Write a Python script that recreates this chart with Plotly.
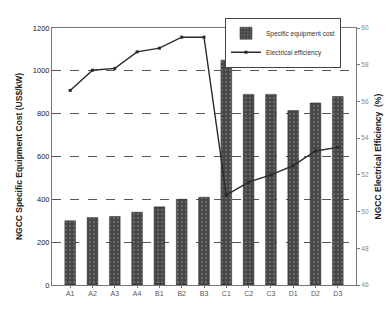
import plotly.graph_objects as go

categories = ["A1", "A2", "A3", "A4", "B1", "B2", "B3", "C1", "C2", "C3", "D1", "D2", "D3"]
cost = [300, 315, 320, 340, 365, 400, 410, 1050, 890, 890, 815, 850, 880]
efficiency = [56.6, 57.7, 57.8, 58.7, 58.9, 59.5, 59.5, 50.9, 51.6, 52.0, 52.5, 53.3, 53.5]
left_ticks = [0, 200, 400, 600, 800, 1000, 1200]
right_ticks = [46, 48, 50, 52, 54, 56, 58, 60]

fig = go.Figure()
fig.add_trace(go.Bar(
    x=categories, y=cost, name="Specific equipment cost",
    marker=dict(color="#454545", line=dict(color="#2a2a2a", width=0.5),
                pattern=dict(shape=".", fgcolor="#8a8a8a", bgcolor="#454545", size=4, solidity=0.3)),
    width=0.48,
))
fig.add_trace(go.Scatter(
    x=categories, y=efficiency, name="Electrical efficiency", yaxis="y2",
    mode="lines+markers", line=dict(color="#2a2a2a", width=1.4),
    marker=dict(symbol="square", size=3, color="#2a2a2a"),
))

fig.update_layout(
    width=388, height=309,
    margin=dict(l=52, r=32, t=28, b=22),
    paper_bgcolor="white", plot_bgcolor="white",
    font=dict(family="Liberation Sans, Arial, sans-serif", color="#333333", size=7),
    showlegend=True,
    legend=dict(x=0.569, y=1.04, xanchor="left", yanchor="top",
                bgcolor="white", bordercolor="#444444", borderwidth=1,
                font=dict(size=6.5, color="#333333"), tracegroupgap=0, itemwidth=30),
    xaxis=dict(showline=True, linecolor="#777777", linewidth=1, mirror=True,
               ticks="outside", ticklen=2, tickcolor="#777777",
               tickfont=dict(size=7, color="#555555"), showgrid=False),
    yaxis=dict(range=[0, 1200], tickvals=left_ticks, showline=True, linecolor="#777777",
               linewidth=1, showgrid=True, gridcolor="#555555", griddash="dash", gridwidth=1,
               zeroline=False, tickfont=dict(size=7.5, color="#222222"), automargin=False,
               title=dict(text="<b>NGCC Specific Equipment Cost (US$/kW)</b>",
                          font=dict(size=8.5, color="#222222"), standoff=8)),
    yaxis2=dict(range=[46, 60], tickvals=right_ticks, overlaying="y", side="right",
                showline=True, linecolor="#777777", linewidth=1, showgrid=False,
                zeroline=False, ticks="outside", ticklen=3, tickcolor="#777777",
                tickfont=dict(size=6.5, color="#888888"), automargin=False),
    bargap=0.52,
    annotations=[dict(text="<b>NGCC Electrical Efficiency  (%)</b>", xref="paper", yref="paper",
                      x=1.072, y=0.5, xanchor="center", yanchor="middle", textangle=-90,
                      showarrow=False, font=dict(size=8.5, color="#222222"))],
)

fig.write_html("out.html", config={"displayModeBar": False},
               post_script="document.body.style.margin='0';")
